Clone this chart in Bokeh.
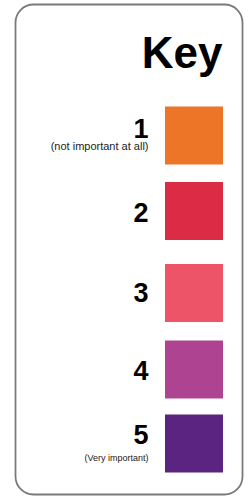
from bokeh.plotting import figure
from bokeh.models import Range1d, ColumnDataSource
from bokeh.embed import file_html
from bokeh.resources import INLINE
from bokeh.core.properties import value

# ---- data ----
title = "Key"
levels = ["1", "2", "3", "4", "5"]
sublabels = ["(not important at all)", "", "", "", "(Very important)"]
colors = ["#EC7527", "#DC2C45", "#EE5468", "#AE4491", "#5B2480"]

# ---- layout (screen pixels) ----
W, H = 248, 500
row_y = [135, 210.5, 292.5, 369, 443]          # row centres (layout)
num_off = [3, 11.5, 9.5, 11, 1]                 # number baseline offsets
sub_off = [11.5, 0, 0, 0, 16.5]                 # sublabel baseline below number
sub_px = [11, 10, 10, 10, 9]
num_px = 27
title_px = 44
size = 58
K = 0.37  # baseline correction factor of the renderer

p = figure(width=W, height=H, output_backend="svg", toolbar_location=None,
           x_range=Range1d(0, W), y_range=Range1d(H, 0),
           min_border=0, outline_line_color=None)
p.axis.visible = False
p.grid.visible = False
p.background_fill_color = "white"
p.border_fill_color = "white"

# rounded frame
p.quad(left=[15], right=[242], top=[4], bottom=[494], fill_color=None,
       line_color="#7a7a7a", line_width=1.8, border_radius=18)

# title
p.text(x=[222], y=[68 - K * title_px], text=[title],
       text_font=value("Liberation Sans"),
       text_font_style="bold", text_font_size=f"{title_px}px", text_align="right",
       text_baseline="alphabetic", text_color="#000000")

n = len(levels)
num_base = [c + o for c, o in zip(row_y, num_off)]
sub_base = [b + o for b, o in zip(num_base, sub_off)]
num_y = [b - K * num_px for b in num_base]
sub_y = [b - K * s for b, s in zip(sub_base, sub_px)]

src = ColumnDataSource(dict(level=levels, sub=sublabels, color=colors,
                            cy=row_y, ny=num_y, sy=sub_y,
                            cx=[193.5] * n, tx=[148] * n,
                            fs=[f"{s}px" for s in sub_px]))

p.rect(x="cx", y="cy", width=size, height=size, fill_color="color",
       line_color=None, source=src)
p.text(x="tx", y="ny", text="level", source=src,
       text_font=value("Liberation Sans"), text_font_style="bold",
       text_font_size=f"{num_px}px", text_align="right", text_baseline="alphabetic",
       text_color="#000000")
p.text(x="tx", y="sy", text="sub", source=src,
       text_font=value("Liberation Sans"), text_font_size="fs",
       text_align="right", text_baseline="alphabetic", text_color="#222222")

open("out.html", "w").write(file_html(p, INLINE))
